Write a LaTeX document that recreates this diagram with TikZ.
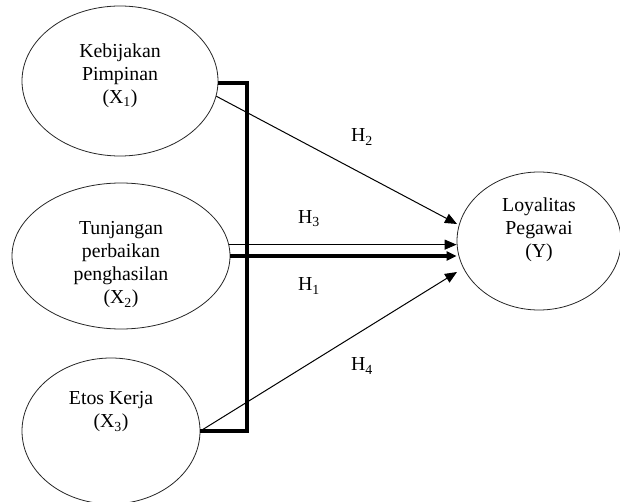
\documentclass[tikz,border=0pt]{standalone}
\usepackage{fontspec}
\setmainfont{Liberation Serif}
\usetikzlibrary{shapes.geometric,arrows.meta}
\tikzset{
  var/.style={draw=black!85, line width=0.8pt, ellipse, inner sep=0pt},
  vtext/.style={align=center, inner sep=0pt, font=\fontsize{19.8}{23}\selectfont},
  hlab/.style={inner sep=0pt, font=\fontsize{19.8}{23}\selectfont},
  thinarrow/.style={line width=1pt, -{Triangle[length=12pt,width=10pt]}},
  thickarrow/.style={line width=3.5pt, -{Triangle[length=10pt,width=9pt]}},
  thickline/.style={line width=3.5pt, line join=miter},
}
\begin{document}
\begin{tikzpicture}[x=1pt,y={(0,-1pt)}]
\useasboundingbox (0,0) rectangle (620,502);
% ellipses
\node[var, minimum width=196pt, minimum height=150pt] (x1) at (120,81) {};
\node[var, minimum width=218pt, minimum height=146pt] (x2) at (121,256) {};
\node[var, minimum width=178pt, minimum height=146pt] (x3) at (111,431) {};
\node[var, minimum width=164pt, minimum height=138pt] (y) at (539,241) {};
% texts
\node[vtext] (x1t) at (120,76) {Kebijakan\\Pimpinan\\(X\textsubscript{1})};
\node[vtext] (x2t) at (121,265) {Tunjangan\\perbaikan\\penghasilan\\(X\textsubscript{2})};
\node[vtext] (x3t) at (111,412) {Etos Kerja\\(X\textsubscript{3})};
\node[vtext] (yt) at (539,230) {Loyalitas\\Pegawai\\(Y)};
% coordinates
\coordinate (bt) at (247,83);
\coordinate (bb) at (247,431);
\coordinate (t2) at (457,224);
\coordinate (t4) at (457,272);
% thick bracket
\draw[thickline] (x1.east |- bt) -- (bt) -- (bb) -- (x3.east);
% arrows
\draw[thinarrow] (x1.-9) -- (t2);
\draw[thinarrow] (x2.6) -- (x2.6 -| y.west);
\draw[thickarrow] (x2.east) -- (x2.east -| y.west);
\draw[thinarrow] (x3.east) -- (t4);
% labels
\node[hlab] (h2) at (362,137) {H\textsubscript{2}};
\node[hlab] (h3) at (309,219) {H\textsubscript{3}};
\node[hlab] (h1) at (309,286) {H\textsubscript{1}};
\node[hlab] (h4) at (362,366) {H\textsubscript{4}};
\end{tikzpicture}
\end{document}
